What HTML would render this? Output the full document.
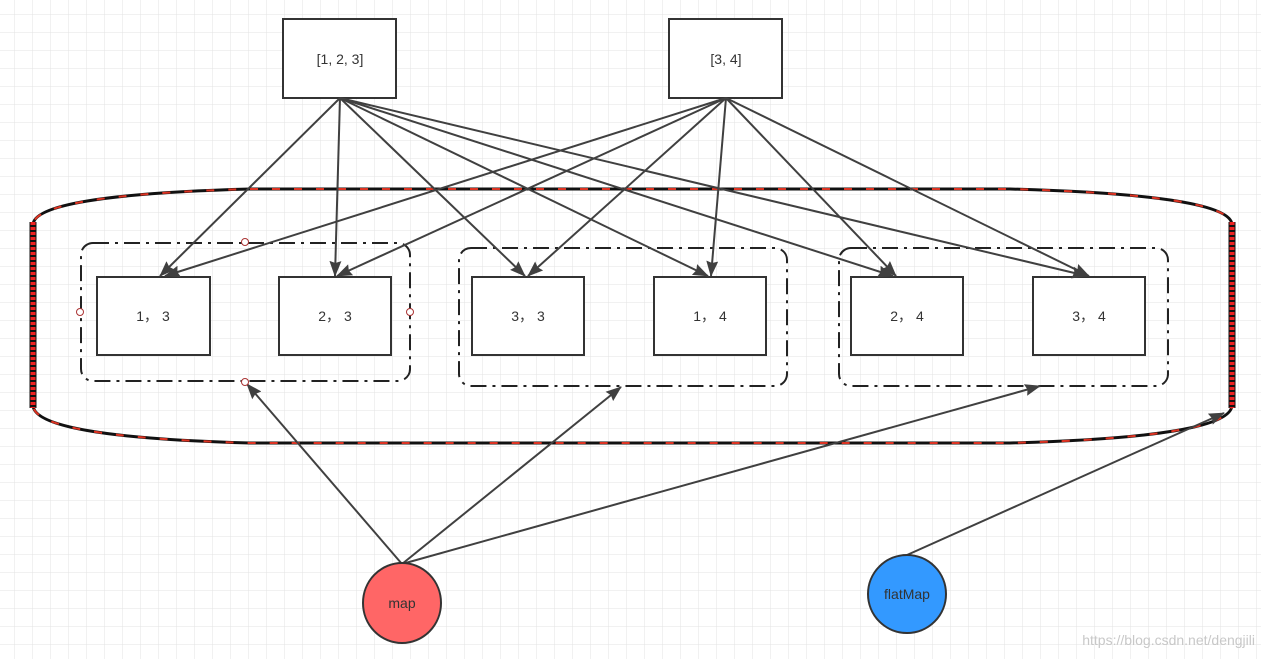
<!DOCTYPE html>
<html><head><style>
html,body{margin:0;padding:0;background:#fff;}
svg{display:block;font-family:"Liberation Sans","Noto Sans CJK SC",sans-serif;}
</style></head><body>
<svg width="1261" height="659" viewBox="0 0 1261 659" xmlns="http://www.w3.org/2000/svg">
<defs>
<pattern id="g" width="18" height="18" patternUnits="userSpaceOnUse" x="-3" y="-3">
<path d="M18 0V18H0" fill="none" stroke="#e3e3e3" stroke-width="1"/>
</pattern>
<marker id="a" viewBox="0 0 16 12" refX="15" refY="6" markerWidth="16" markerHeight="12" orient="auto" markerUnits="userSpaceOnUse">
<path d="M0 0L16 6L0 12L2 6Z" fill="#404040"/>
</marker>
</defs>
<rect width="1261" height="659" fill="url(#g)"/>
<path d="M250 189 L1010 189 Q1232 195 1232 225 L1232 405 Q1232 437 1010 443 L250 443 Q33 437 33 405 L33 225 Q33 195 250 189 Z" fill="none" stroke="#111" stroke-width="3"/>
<path d="M250 189 L1010 189 Q1232 195 1232 225 L1232 405 Q1232 437 1010 443 L250 443 Q33 437 33 405 L33 225 Q33 195 250 189 Z" fill="none" stroke="#d32" stroke-width="2" stroke-dasharray="8 14"/>
<line x1="33" y1="222" x2="33" y2="408" stroke="#111" stroke-width="7"/>
<line x1="33" y1="222" x2="33" y2="408" stroke="#e22" stroke-width="5" stroke-dasharray="3 2"/>
<line x1="1232" y1="222" x2="1232" y2="408" stroke="#111" stroke-width="7"/>
<line x1="1232" y1="222" x2="1232" y2="408" stroke="#e22" stroke-width="5" stroke-dasharray="3 2"/>
<g fill="none" stroke="#222" stroke-width="2" stroke-dasharray="16 6 3 6">
<rect x="81" y="243" width="329" height="138" rx="12"/>
<rect x="459" y="248" width="328" height="138" rx="12"/>
<rect x="839" y="248" width="329" height="138" rx="12"/>
</g>
<g fill="#fff" stroke="#333" stroke-width="2">
<rect x="283" y="19" width="113" height="79"/>
<rect x="669" y="19" width="113" height="79"/>
<rect x="97" y="277" width="113" height="78"/>
<rect x="279" y="277" width="112" height="78"/>
<rect x="472" y="277" width="112" height="78"/>
<rect x="654" y="277" width="112" height="78"/>
<rect x="851" y="277" width="112" height="78"/>
<rect x="1033" y="277" width="112" height="78"/>
</g>
<g font-size="14" fill="#333" text-anchor="middle">
<text x="340" y="64">[1, 2, 3]</text>
<text x="726" y="64">[3, 4]</text>
<text x="153" y="321">1， 3</text>
<text x="335" y="321">2， 3</text>
<text x="528" y="321">3， 3</text>
<text x="710" y="321">1， 4</text>
<text x="907" y="321">2， 4</text>
<text x="1089" y="321">3， 4</text>
</g>
<g stroke="#404040" stroke-width="2" marker-end="url(#a)">
<line x1="340" y1="98" x2="160" y2="276"/>
<line x1="340" y1="98" x2="335" y2="276"/>
<line x1="340" y1="98" x2="525" y2="276"/>
<line x1="340" y1="98" x2="708" y2="276"/>
<line x1="340" y1="98" x2="893" y2="276"/>
<line x1="340" y1="98" x2="1087" y2="276"/>
<line x1="726" y1="98" x2="165" y2="276"/>
<line x1="726" y1="98" x2="337" y2="276"/>
<line x1="726" y1="98" x2="528" y2="276"/>
<line x1="726" y1="98" x2="711" y2="276"/>
<line x1="726" y1="98" x2="896" y2="276"/>
<line x1="726" y1="98" x2="1089" y2="276"/>
<line x1="402" y1="564" x2="247" y2="384"/>
<line x1="402" y1="564" x2="621" y2="387"/>
<line x1="402" y1="564" x2="1040" y2="386"/>
<line x1="907" y1="555" x2="1224" y2="413"/>
</g>
<g fill="#fff" stroke="#a33" stroke-width="1">
<circle cx="245" cy="242" r="3.5"/>
<circle cx="245" cy="382" r="3.5"/>
<circle cx="80" cy="312" r="3.5"/>
<circle cx="410" cy="312" r="3.5"/>
</g>
<ellipse cx="402" cy="603" rx="39" ry="40" fill="#ff6666" stroke="#333" stroke-width="2"/>
<ellipse cx="907" cy="594" rx="39" ry="39" fill="#3399ff" stroke="#333" stroke-width="2"/>
<text x="402" y="608" font-size="14" fill="#333" text-anchor="middle">map</text>
<text x="907" y="599" font-size="14" fill="#333" text-anchor="middle">flatMap</text>
<text x="1255" y="645" font-size="14" fill="#c8c8c8" text-anchor="end">https://blog.csdn.net/dengjili</text>
</svg>
</body></html>
